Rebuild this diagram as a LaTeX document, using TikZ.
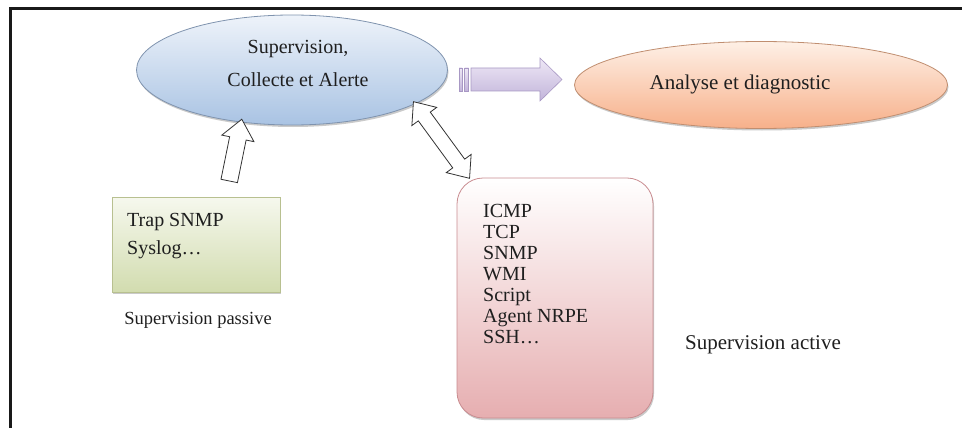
\documentclass[tikz,border=0pt]{standalone}
\usepackage{fontspec}
\setmainfont{Liberation Serif}
\usetikzlibrary{shapes.geometric,shapes.arrows,shadows}
\definecolor{blueTop}{HTML}{EEF3FA}
\definecolor{blueBot}{HTML}{A9C3E3}
\definecolor{blueEdge}{HTML}{7F93AE}
\definecolor{orTop}{HTML}{FEF0E6}
\definecolor{orBot}{HTML}{F7B08A}
\definecolor{orEdge}{HTML}{C08E70}
\definecolor{grTop}{HTML}{F6F8EE}
\definecolor{grBot}{HTML}{D2DCAF}
\definecolor{grEdge}{HTML}{B8C090}
\definecolor{pkTop}{HTML}{FFFFFF}
\definecolor{pkBot}{HTML}{E6AEB0}
\definecolor{pkEdge}{HTML}{C98C90}
\definecolor{puTop}{HTML}{EEE8F6}
\definecolor{puBot}{HTML}{C2B4DA}
\definecolor{puEdge}{HTML}{A898C4}
\tikzset{
  txt/.style={font=\fontsize{20}{21}\selectfont, text=black!88, inner sep=0pt},
  blockarrow/.style={draw=black!80, fill=white, line width=0.8pt},
  softshadow/.style={drop shadow={shadow xshift=1pt, shadow yshift=-2pt, opacity=.35, fill=black!60}}
}
\begin{document}
\begin{tikzpicture}[x=1pt,y=-1pt]
\useasboundingbox (0,0) rectangle (962,428);
% frame
\draw[line width=3pt, black!90] (10,428) -- (10,9) -- (962,9);
% ellipses
\node[ellipse, minimum width=311pt, minimum height=110pt, top color=blueTop, bottom color=blueBot, draw=blueEdge, line width=0.8pt, softshadow] (sup) at (292,70) {};
\node[txt, align=center, font=\fontsize{20}{33}\selectfont] (suptxt) at (298,63) {Supervision,\\Collecte et Alerte};
\node[ellipse, minimum width=373pt, minimum height=87pt, top color=orTop, bottom color=orBot, draw=orEdge, line width=0.8pt, softshadow] (ana) at (761,85) {};
\node[txt, font=\fontsize{21}{24}\selectfont] (anatxt) at (740,84) {Analyse et diagnostic};
% boxes
\node[rectangle, minimum width=168pt, minimum height=95pt, top color=grTop, bottom color=grBot, draw=grEdge, line width=0.8pt, softshadow] (pass) at (196,244.5) {};
\node[txt, align=left, anchor=north west, font=\fontsize{20}{28}\selectfont] (passtxt) at (127,213) {Trap SNMP\\Syslog\dots};
\node[rectangle, rounded corners=26pt, minimum width=196pt, minimum height=240pt, top color=pkTop, bottom color=pkBot, draw=pkEdge, line width=0.8pt, softshadow] (act) at (555,298) {};
\node[txt, align=left, anchor=north west] (acttxt) at (483,204) {ICMP\\TCP\\SNMP\\WMI\\Script\\Agent NRPE\\SSH\dots};
% labels
\node[txt, font=\fontsize{18.5}{21}\selectfont] (lpass) at (198,320) {Supervision passive};
\node[txt, font=\fontsize{21}{24}\selectfont] (lact) at (763,345) {Supervision active};
% hollow arrows
\node[blockarrow, single arrow, inner sep=8pt, minimum height=63pt, single arrow head extend=8pt, single arrow tip angle=80, rotate=78.5] (up) at (234.5,155) {};
\node[blockarrow, double arrow, inner sep=7pt, minimum height=95pt, double arrow head extend=8pt, double arrow tip angle=80, rotate=-53.8] (dbl) at (441.5,140) {};
% striped arrow
\shade[top color=puTop, bottom color=puBot, draw=puEdge, line width=0.6pt]
  (471,68) -- (540,68) -- (540,58) -- (562,79.5) -- (540,101) -- (540,91) -- (471,91) -- cycle;
\shade[top color=puTop, bottom color=puBot, draw=puEdge, line width=0.6pt] (459,68) rectangle (462,91);
\shade[top color=puTop, bottom color=puBot, draw=puEdge, line width=0.6pt] (464.5,68) rectangle (468.5,91);
\end{tikzpicture}
\end{document}
